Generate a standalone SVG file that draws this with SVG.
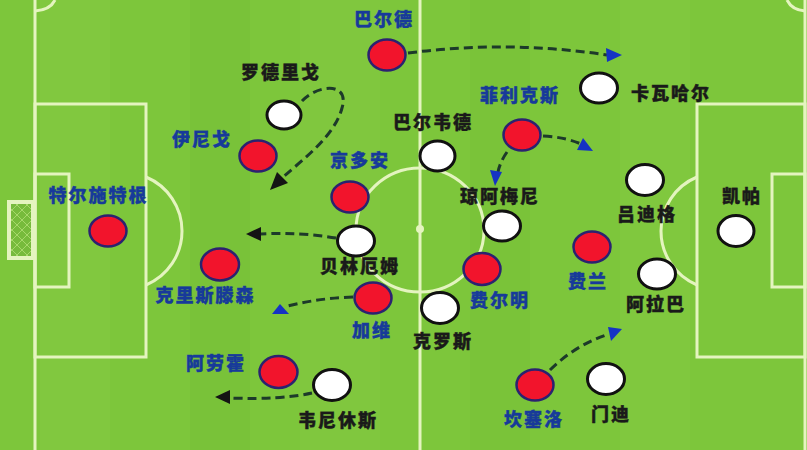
<svg xmlns="http://www.w3.org/2000/svg" width="807" height="450" viewBox="0 0 807 450">
<defs>
<style>
.ln{fill:none;stroke:#e4f4bf;stroke-width:3}
.red{fill:#f2142c;stroke:#2b2270;stroke-width:2.5}
.wht{fill:#ffffff;stroke:#111111;stroke-width:3}
.lb{font-family:"Noto Sans CJK SC","Noto Sans",sans-serif;font-weight:900;font-size:18px;letter-spacing:2px;text-anchor:middle;stroke-width:0.4px}
.bl{fill:#173a9a;stroke:#173a9a}
.bk{fill:#1a1a1a;stroke:#1a1a1a}
.dash{fill:none;stroke:#1d3a2a;stroke-width:3;stroke-dasharray:9 5;stroke-linecap:butt}
.ahb{fill:#1533c4}
.ahk{fill:#141414}
</style>
<pattern id="net" x="12" y="205" width="10" height="10" patternUnits="userSpaceOnUse">
<rect width="10" height="10" fill="#77bb3c"/>
<path d="M0,5 L5,0 L10,5 L5,10 Z" fill="none" stroke="#a6d86a" stroke-width="1"/>
</pattern>
</defs>
<rect x="0" y="0" width="807" height="450" fill="#7dc63b"/>
<g opacity="0.5">
<rect x="40" y="0" width="70" height="450" fill="#85cb43"/>
<rect x="190" y="0" width="60" height="450" fill="#77c038"/>
<rect x="300" y="0" width="80" height="450" fill="#83c941"/>
<rect x="470" y="0" width="60" height="450" fill="#78c139"/>
<rect x="620" y="0" width="70" height="450" fill="#84ca42"/>
</g>
<g id="pitch">
<line class="ln" x1="35" y1="0" x2="35" y2="450"/>
<line class="ln" x1="805" y1="0" x2="805" y2="450"/>
<line class="ln" x1="420" y1="0" x2="420" y2="450"/>
<ellipse class="ln" cx="420" cy="230" rx="64" ry="62"/>
<circle cx="420" cy="229" r="4" fill="#e4f4bf"/>
<rect class="ln" x="35" y="104" width="111" height="253"/>
<rect class="ln" x="35" y="174" width="34" height="113"/>
<path class="ln" d="M146,177 A58.5,58.5 0 0 1 146,285"/>
<rect class="ln" x="697" y="104" width="108" height="253"/>
<rect class="ln" x="772" y="174" width="33" height="113"/>
<path class="ln" d="M697,177 A58.5,58.5 0 0 0 697,285"/>
<path class="ln" d="M35,11 Q50,10 55,0"/>
<path class="ln" d="M787,0 Q792,10 805,11"/>
<rect x="9" y="202" width="24" height="56" fill="url(#net)" stroke="#e4f4bf" stroke-width="4"/>
</g>
<g id="connectors">
<path class="dash" d="M408,53 Q510,40 607,55"/>
<polygon class="ahb" points="622,55 606,48 607,62"/>
<path class="dash" d="M302,101 C318,84 350,82 342,108 C335,135 305,158 283,177"/>
<polygon class="ahk" points="270,190 277,172 288,183"/>
<path class="dash" d="M507,152 Q500,162 498,172"/>
<polygon class="ahb" points="495,186 490,170 502,172"/>
<path class="dash" d="M543,136 Q565,137 581,144"/>
<polygon class="ahb" points="593,151 577,150 583,138"/>
<path class="dash" d="M336,238 Q300,232 261,234"/>
<polygon class="ahk" points="246,234 261,227 261,241"/>
<path class="dash" d="M353,297 Q320,298 288,306"/>
<polygon class="ahb" points="280,304 272,314 289,314"/>
<path class="dash" d="M312,393 Q280,400 230,398"/>
<polygon class="ahk" points="215,397 230,390 230,404"/>
<path class="dash" d="M550,370 Q575,345 609,334"/>
<polygon class="ahb" points="622,329 608,327 611,341"/>
</g>
<g id="p-balde"><ellipse class="red" cx="387" cy="55" rx="18.5" ry="15.5"/><text class="lb bl" x="384" y="25.5">巴尔德</text></g>
<g id="p-rodrygo"><ellipse class="wht" cx="284" cy="115" rx="17" ry="14"/><text class="lb bk" x="281" y="78.5">罗德里戈</text></g>
<g id="p-inigo"><ellipse class="red" cx="258" cy="156" rx="18.5" ry="15.5"/><text class="lb bl" x="202" y="145.5">伊尼戈</text></g>
<g id="p-terstegen"><ellipse class="red" cx="108" cy="231" rx="18.5" ry="15.5"/><text class="lb bl" x="98.5" y="202">特尔施特根</text></g>
<g id="p-gundogan"><ellipse class="red" cx="350" cy="197" rx="18.5" ry="15.5"/><text class="lb bl" x="360" y="167">京多安</text></g>
<g id="p-valverde"><ellipse class="wht" cx="437.5" cy="156" rx="17.5" ry="15"/><text class="lb bk" x="433" y="128.5">巴尔韦德</text></g>
<g id="p-felix"><ellipse class="red" cx="522" cy="135" rx="18.5" ry="15.5"/><text class="lb bl" x="520" y="102">菲利克斯</text></g>
<g id="p-carvajal"><ellipse class="wht" cx="599" cy="88" rx="18.5" ry="15"/><text class="lb bk" x="671" y="100">卡瓦哈尔</text></g>
<g id="p-tchouameni"><ellipse class="wht" cx="502" cy="226" rx="18.5" ry="15"/><text class="lb bk" x="500" y="203">琼阿梅尼</text></g>
<g id="p-rudiger"><ellipse class="wht" cx="645" cy="180" rx="18.5" ry="15.5"/><text class="lb bk" x="647" y="221">吕迪格</text></g>
<g id="p-kepa"><ellipse class="wht" cx="736" cy="231" rx="18" ry="15.5"/><text class="lb bk" x="742" y="203">凯帕</text></g>
<g id="p-christensen"><ellipse class="red" cx="220" cy="264.5" rx="19" ry="16"/><text class="lb bl" x="205.5" y="302">克里斯滕森</text></g>
<g id="p-bellingham"><ellipse class="wht" cx="356" cy="241" rx="18.5" ry="15"/><text class="lb bk" x="360" y="273">贝林厄姆</text></g>
<g id="p-gavi"><ellipse class="red" cx="373" cy="298" rx="18.5" ry="15.5"/><text class="lb bl" x="372" y="337">加维</text></g>
<g id="p-fermin"><ellipse class="red" cx="482" cy="269" rx="18.5" ry="16"/><text class="lb bl" x="500" y="307">费尔明</text></g>
<g id="p-kroos"><ellipse class="wht" cx="440" cy="308" rx="18.5" ry="15.5"/><text class="lb bk" x="443" y="348">克罗斯</text></g>
<g id="p-araujo"><ellipse class="red" cx="278.5" cy="372" rx="19" ry="16"/><text class="lb bl" x="216" y="370">阿劳霍</text></g>
<g id="p-vinicius"><ellipse class="wht" cx="332" cy="385" rx="18.5" ry="15.5"/><text class="lb bk" x="338" y="427">韦尼休斯</text></g>
<g id="p-cancelo"><ellipse class="red" cx="535" cy="385" rx="18.5" ry="15.5"/><text class="lb bl" x="534" y="425.5">坎塞洛</text></g>
<g id="p-mendy"><ellipse class="wht" cx="606" cy="379" rx="18.5" ry="15.5"/><text class="lb bk" x="611" y="421">门迪</text></g>
<g id="p-ferran"><ellipse class="red" cx="592" cy="247" rx="18.5" ry="15.5"/><text class="lb bl" x="588" y="288">费兰</text></g>
<g id="p-alaba"><ellipse class="wht" cx="657" cy="274" rx="18.5" ry="15"/><text class="lb bk" x="656" y="311">阿拉巴</text></g>
</svg>
